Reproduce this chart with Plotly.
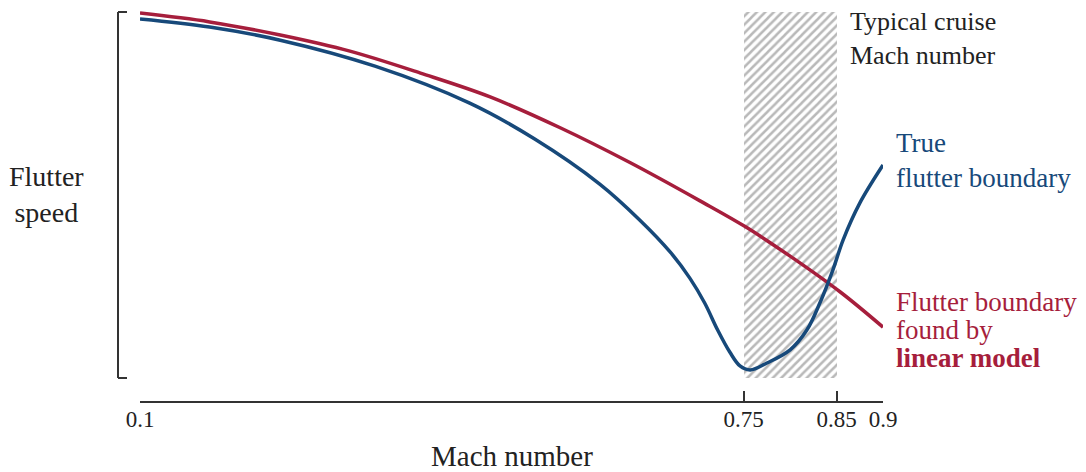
import plotly.graph_objects as go

# Mach number samples and normalised flutter speed for each curve
mach_linear = [0.100, 0.175, 0.251, 0.326, 0.402, 0.477, 0.553, 0.628,
               0.703, 0.752, 0.800, 0.854, 0.900]
speed_linear = [0.997, 0.973, 0.937, 0.893, 0.833, 0.768, 0.683, 0.588,
                0.484, 0.413, 0.333, 0.235, 0.139]

mach_true = [0.100, 0.175, 0.251, 0.353, 0.455, 0.525, 0.595, 0.638,
             0.671, 0.692, 0.708, 0.722, 0.735, 0.746, 0.757, 0.775,
             0.800, 0.818, 0.832, 0.846, 0.857, 0.875, 0.900]
speed_true = [0.981, 0.959, 0.923, 0.852, 0.751, 0.653, 0.530, 0.432,
              0.344, 0.273, 0.205, 0.131, 0.071, 0.033, 0.022, 0.041,
              0.077, 0.131, 0.205, 0.295, 0.377, 0.478, 0.582]

# typical cruise band
cruise_lo, cruise_hi = 0.75, 0.85

tick_vals = [0.1, 0.75, 0.85, 0.9]
tick_text = ["0.1", "0.75", "0.85", "0.9"]

RED = "#a61e3c"
BLUE = "#17497a"
INK = "#222222"
AXIS = "#333333"
FONT = "Liberation Serif"

fig = go.Figure()

# hatched cruise band
fig.add_trace(go.Bar(
    x=[(cruise_lo + cruise_hi) / 2], y=[1.0], base=[0.0],
    width=[cruise_hi - cruise_lo],
    marker=dict(color="white", line=dict(width=0),
                pattern=dict(shape="/", fgcolor="#747474", bgcolor="white",
                             size=6, solidity=0.42)),
    hoverinfo="skip", showlegend=False,
))

fig.add_trace(go.Scatter(
    x=mach_linear, y=speed_linear, mode="lines",
    line=dict(color=RED, width=3.5, shape="spline", smoothing=1.0),
    showlegend=False, hoverinfo="skip",
))
fig.add_trace(go.Scatter(
    x=mach_true, y=speed_true, mode="lines",
    line=dict(color=BLUE, width=3.5, shape="spline", smoothing=1.0),
    showlegend=False, hoverinfo="skip",
))

# bracket-style vertical axis
bx, btick = -0.0296, -0.0175
by0, by1 = 0.0575, 0.9725
for shp in [
    dict(x0=bx, x1=bx, y0=by0, y1=by1),
    dict(x0=bx, x1=btick, y0=by1, y1=by1),
    dict(x0=bx, x1=btick, y0=by0, y1=by0),
]:
    fig.add_shape(type="line", xref="paper", yref="paper",
                  line=dict(color=AXIS, width=2), **shp)

annotations = [
    dict(x=0.9529, y=0.9075, text="Typical cruise<br>Mach number",
         xanchor="left", yanchor="middle", align="left",
         font=dict(family=FONT, size=26, color=INK)),
    dict(x=1.0148, y=0.601, text="True<br>flutter boundary",
         xanchor="left", yanchor="middle", align="left",
         font=dict(family=FONT, size=27, color=BLUE)),
    dict(x=1.0148, y=0.2475, text="Flutter boundary",
         xanchor="left", yanchor="middle", align="left",
         font=dict(family=FONT, size=27, color=RED)),
    dict(x=1.0148, y=0.1775, text="found by",
         xanchor="left", yanchor="middle", align="left",
         font=dict(family=FONT, size=27, color=RED)),
    dict(x=1.0148, y=0.1075, text="<b>linear model</b>",
         xanchor="left", yanchor="middle", align="left",
         font=dict(family=FONT, size=27, color=RED)),
    dict(x=-0.1252, y=0.516, text="Flutter<br>speed",
         xanchor="center", yanchor="middle", align="center",
         font=dict(family=FONT, size=28, color=INK)),
    dict(x=0.5007, y=-0.1375, text="Mach number",
         xanchor="center", yanchor="middle", align="center",
         font=dict(family=FONT, size=29, color=INK)),
]
for a in annotations:
    fig.add_annotation(xref="paper", yref="paper", showarrow=False, **a)

fig.update_layout(
    width=1086, height=472,
    margin=dict(l=140, r=203, t=1, b=71),
    paper_bgcolor="white", plot_bgcolor="white",
    bargap=0,
    xaxis=dict(range=[0.1, 0.9], tickvals=tick_vals, ticktext=tick_text,
               ticks="inside", ticklen=10, tickwidth=2, tickcolor=AXIS,
               showline=True, linecolor=AXIS, linewidth=2,
               showgrid=False, zeroline=False, ticklabelstandoff=-4,
               tickfont=dict(family=FONT, size=23, color=INK)),
    yaxis=dict(range=[-0.0628, 1.0301], showticklabels=False, ticks="",
               showgrid=False, zeroline=False, showline=False),
)

fig.write_html("out.html")
